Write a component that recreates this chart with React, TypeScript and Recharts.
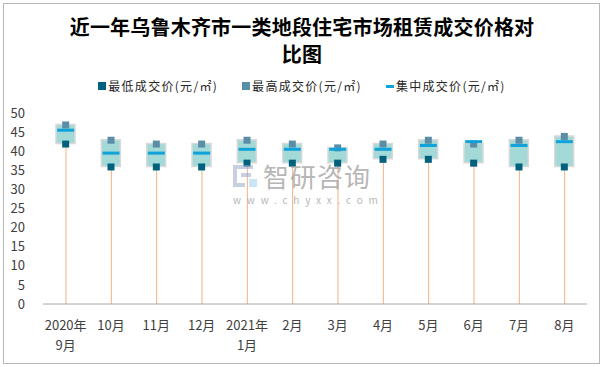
import { Bar, ComposedChart, Line, XAxis, YAxis } from 'recharts';

const months = ['2020年9月', '10月', '11月', '12月', '2021年1月', '2月', '3月', '4月', '5月', '6月', '7月', '8月'];
const lowPrice = [42, 36, 36, 36, 37, 37, 37, 38, 38, 37, 36, 36];
const highPrice = [47, 43, 42, 42, 43, 42, 41, 42, 43, 42, 43, 44];
const midPrice = [45.5, 39.5, 39.5, 39.5, 40.5, 40.5, 40.5, 40.5, 41.5, 42.5, 41.5, 42.5];
const yTicks = [0, 5, 10, 15, 20, 25, 30, 35, 40, 45, 50];

const titleLines = ['近一年乌鲁木齐市一类地段住宅市场租赁成交价格对', '比图'];
const legendItems = [
  { name: '最低成交价(元/㎡)', color: '#00617f', kind: 'square' },
  { name: '最高成交价(元/㎡)', color: '#5b8ea6', kind: 'square' },
  { name: '集中成交价(元/㎡)', color: '#0fa3d9', kind: 'dash' },
];

const data = months.map((month, i) => ({
  month,
  low: lowPrice[i],
  high: highPrice[i],
  mid: midPrice[i],
  range: [lowPrice[i], highPrice[i]],
}));

const FONT = '"Noto Sans CJK SC", "Noto Sans", sans-serif';

function DropLine(props: any) {
  const { x, y, width, height } = props;
  const cx = x + width / 2;
  return <line x1={cx} x2={cx} y1={y} y2={y + height} stroke="#f4b183" strokeWidth={1} />;
}

const squareDot = (color: string, tag: string) => (props: any) => {
  const { cx, cy, index } = props;
  if (cx == null || cy == null) return <g key={`${tag}-${index}`} />;
  return <rect key={`${tag}-${index}`} x={cx - 3.5} y={cy - 3} width={7} height={7} fill={color} />;
};

const dashDot = (props: any) => {
  const { cx, cy, index } = props;
  if (cx == null || cy == null) return <g key={`mid-${index}`} />;
  return <rect key={`mid-${index}`} x={cx - 8.5} y={cy - 1.5} width={17} height={3} fill="#0fa3d9" />;
};

function MonthTick({ x, y, payload }: any) {
  const m = /^(\d{4}年)(.+)$/.exec(payload.value);
  const lines = m ? [m[1], m[2]] : [payload.value];
  return (
    <text x={x} y={y} textAnchor="middle" fontSize={13} fill="#404040" fontFamily={FONT}>
      {lines.map((l, i) => (
        <tspan key={i} x={x} dy={i === 0 ? 18 : 20}>
          {l}
        </tspan>
      ))}
    </text>
  );
}

export default function App() {
  return (
    <div style={{ position: 'absolute', left: 0, top: 0, width: 604, height: 367, background: '#fff', fontFamily: FONT }}>
      <div
        style={{
          position: 'absolute', left: 3, top: 3, width: 597, height: 361,
          border: '1px solid #b8b8b8', boxSizing: 'border-box',
        }}
      />
      <div
        style={{
          position: 'absolute', left: 0, top: 13, width: 604, textAlign: 'center',
          fontSize: 20, fontWeight: 'bold', lineHeight: '27px', color: '#000', letterSpacing: 0.2,
        }}
      >
        {titleLines.map((t) => (
          <div key={t}>{t}</div>
        ))}
      </div>
      <div
        style={{
          position: 'absolute', left: 0, top: 78, width: 604, display: 'flex',
          justifyContent: 'center', gap: 24, fontSize: 12, lineHeight: '16px',
          letterSpacing: 1.3, color: '#262626',
        }}
      >
        {legendItems.map((item) => (
          <div key={item.name} style={{ display: 'flex', alignItems: 'center' }}>
            <span
              style={{
                display: 'inline-block',
                width: 8,
                height: item.kind === 'dash' ? 3 : 8,
                background: item.color,
                marginRight: 2,
              }}
            />
            <span>{item.name}</span>
          </div>
        ))}
      </div>

      <ComposedChart
        width={604}
        height={367}
        data={data}
        margin={{ top: 113, right: 17, bottom: 23, left: 0 }}
        style={{ position: 'absolute', left: 0, top: 0 }}
      >
        <XAxis
          dataKey="month"
          interval={0}
          height={40}
          tickLine={false}
          axisLine={{ stroke: '#a6a6a6' }}
          tick={<MonthTick />}
        />
        <XAxis xAxisId="drop" dataKey="month" hide />
        <YAxis
          width={43}
          domain={[0, 50]}
          ticks={yTicks}
          interval={0}
          axisLine={false}
          tickLine={false}
          tickMargin={12}
          tick={{ fontSize: 13, fill: '#404040', fontFamily: FONT }}
        />
        <Bar xAxisId="drop" dataKey="low" barSize={4} shape={<DropLine />} isAnimationActive={false} />
        <Bar
          dataKey="range"
          barSize={19}
          fill="#a3d9d7"
          stroke="#d9d9d9"
          strokeWidth={1.5}
          isAnimationActive={false}
        />
        <Line dataKey="low" stroke="none" dot={squareDot('#00617f', 'low')} activeDot={false} isAnimationActive={false} />
        <Line dataKey="high" stroke="none" dot={squareDot('#5b8ea6', 'high')} activeDot={false} isAnimationActive={false} />
        <Line dataKey="mid" stroke="none" dot={dashDot} activeDot={false} isAnimationActive={false} />
      </ComposedChart>

      <div style={{ position: 'absolute', left: 233, top: 165, width: 26, height: 24, opacity: 0.55 }}>
        <svg width={26} height={24}>
          <rect x={0} y={0} width={20} height={4} fill="#9aa8c8" />
          <rect x={0} y={0} width={4} height={22} fill="#9aa8c8" />
          <rect x={0} y={18} width={12} height={4} fill="#9aa8c8" />
          <rect x={8} y={8} width={10} height={4} fill="#9aa8c8" />
          <rect x={16} y={14} width={8} height={8} fill="#9ed0f0" />
        </svg>
      </div>
      <div
        style={{
          position: 'absolute', left: 263, top: 163, fontSize: 26, lineHeight: '26px',
          color: '#a0a0a0', opacity: 0.75, letterSpacing: 1,
        }}
      >
        智研咨询
      </div>
      <div
        style={{
          position: 'absolute', left: 233, top: 194, fontSize: 10, lineHeight: '11px',
          color: '#a0a0a0', opacity: 0.75, letterSpacing: 5.8,
        }}
      >
        www.chyxx.com
      </div>
    </div>
  );
}
